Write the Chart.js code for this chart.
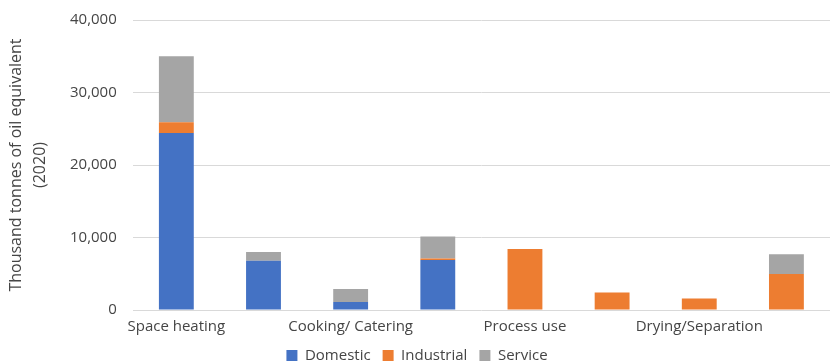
<!DOCTYPE html>
<html>
<head>
<meta charset="utf-8">
<script src="https://cdn.jsdelivr.net/npm/chart.js@4/dist/chart.umd.min.js"></script>
<style>
  html, body { margin: 0; padding: 0; background: #fff; overflow: hidden; }
  canvas { display: block; }
</style>
</head>
<body>
<canvas id="useChart" width="832" height="364"></canvas>
<script>
// --- End-use categories (only every other one gets a label on the axis) ---
const categories = [
  "Space heating", "Water heating", "Cooking/ Catering", "Lighting and appliances",
  "Process use", "Low temperature process", "Drying/Separation", "Other"
];

// --- Energy use by sector, thousand tonnes of oil equivalent (2020) ---
const domestic   = [24400, 6800, 1100, 6900,    0,    0,    0,    0];
const industrial = [ 1500,    0,    0,  200, 8400, 2400, 1600, 4950];
const service    = [ 9100, 1200, 1800, 3050,    0,    0,    0, 2750];

const yTicks = [0, 10000, 20000, 30000, 40000];

const textColor = '#454545';
const family = "'Open Sans', sans-serif";

const ctx = document.getElementById('useChart').getContext('2d');
const useChart = new Chart(ctx, {
  type: 'bar',
  data: {
    labels: categories,
    datasets: [
      { label: 'Domestic',   data: domestic,   backgroundColor: '#4472C4' },
      { label: 'Industrial', data: industrial, backgroundColor: '#ED7D31' },
      { label: 'Service',    data: service,    backgroundColor: '#A5A5A5' }
    ]
  },
  options: {
    responsive: false,
    animation: false,
    datasets: {
      bar: { barPercentage: 0.4, categoryPercentage: 1.0 }
    },
    // legend sits close to the bottom edge, so the bottom padding goes negative
    layout: { padding: { top: 0, right: 2, left: 4, bottom: -9 } },
    plugins: {
      legend: {
        position: 'bottom',
        labels: {
          color: textColor,
          font: { family, size: 15 },
          boxWidth: 11,
          boxHeight: 11,
          padding: 12
        }
      },
      tooltip: { enabled: false }
    },
    scales: {
      x: {
        stacked: true,
        grid: { display: false },
        border: { display: false },
        ticks: {
          color: textColor,
          font: { family, size: 15 },
          autoSkip: false,
          maxRotation: 0,
          padding: 0,
          callback: (value, index) => index % 2 === 0 ? categories[index] : ''
        }
      },
      y: {
        stacked: true,
        min: yTicks[0],
        max: yTicks[yTicks.length - 1],
        afterBuildTicks: axis => { axis.ticks = yTicks.map(v => ({ value: v })); },
        // tick padding would otherwise push the plot area down too
        afterFit: axis => { axis.paddingTop = 20; },
        grid: { color: '#d9d9d9', drawTicks: false },
        border: { display: false },
        ticks: {
          color: textColor,
          font: { family, size: 15 },
          padding: 16,
          callback: v => v.toLocaleString('en-US')
        },
        title: {
          display: true,
          text: ['Thousand tonnes of oil equivalent', '(2020)'],
          color: textColor,
          font: { family, size: 16, lineHeight: 1.5 },
          padding: { top: 0, bottom: 2 }
        }
      }
    }
  }
});
</script>
</body>
</html>
